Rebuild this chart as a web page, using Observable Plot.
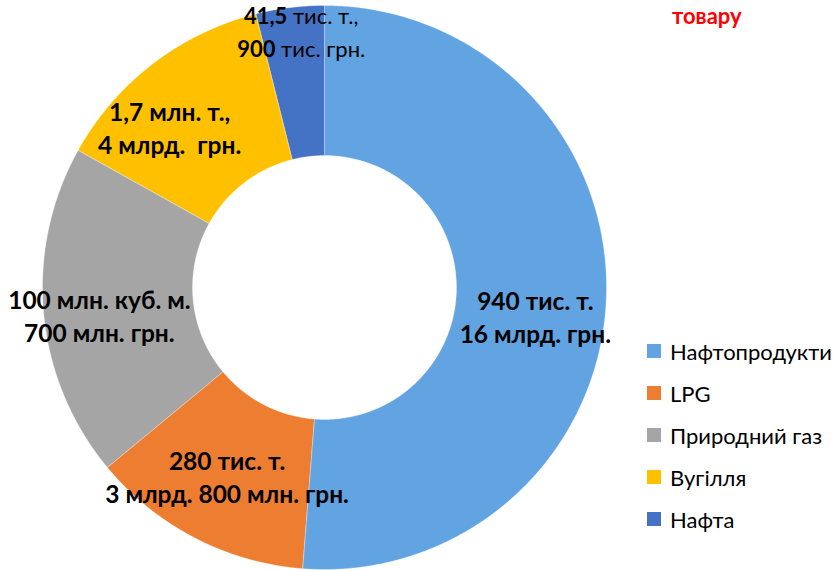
<!DOCTYPE html>
<html>
<head>
<meta charset="utf-8">
<script src="https://cdn.jsdelivr.net/npm/d3@7"></script>
<script src="https://cdn.jsdelivr.net/npm/@observablehq/plot@0.6"></script>
<style>
  html, body { margin: 0; padding: 0; background: #fff; }
  #wrap { position: relative; width: 838px; height: 570px; overflow: hidden; font-family: Lato, "Open Sans", sans-serif; }
  #chart { position: absolute; left: 0; top: 0; }
  #title { position: absolute; left: 672px; top: 2px; color: #ff0000; font-weight: bold; font-size: 22px; font-family: Lato, sans-serif; }
  #legend { position: absolute; left: 647px; top: 330px; }
  .lg-swatches { font-family: Lato, sans-serif !important; font-size: 22px !important; color: #000 !important; margin: 0 !important; }
  .lg-swatch { height: 42px !important; display: flex !important; align-items: center !important; padding: 0 !important; margin: 0 !important; }
  .lg-swatch svg { margin-right: 9px !important; }
  .lg-label, .lg-swatch { font-size: 22px !important; }
</style>
</head>
<body>
<div id="wrap">
  <div id="chart"></div>
  <div id="title">товару</div>
  <div id="legend"></div>
</div>
<script>
// ---- data ----
const categories = ["Нафтопродукти", "LPG", "Природний газ", "Вугілля", "Нафта"];
const shares = [51.25, 12.75, 19.1, 13.0, 3.9];
const labelTexts = [
  "940 тис. т.\n16 млрд. грн.",
  "280 тис. т.\n3 млрд. 800 млн. грн.",
  "100 млн. куб. м.\n700 млн. грн.",
  "1,7 млн. т.,\n4 млрд.  грн.",
  "41,5 тис. т.,\n900 тис. грн."
];
const colors = ["#62A3E2", "#ED7D31", "#A5A5A5", "#FFC000", "#4472C4"];

// ---- layout (not data) ----
const INNER = 0.468;            // inner radius as a fraction of the outer one
const PX = 282;                 // outer radius in pixels (for pixel nudges of labels)
const labelRadius = 0.734;
const labelNudge = [[4, 20], [-2, 5], [-19, 9], [-29, 4], [2, -52]]; // px, +y down

const pie = d3.pie().sort(null).value(d => d)(shares);

// y grows downward in this frame
function ring(a0, a1) {
  const outer = [], inner = [];
  const n = Math.max(2, Math.ceil((a1 - a0) / (Math.PI / 360)));
  for (let k = 0; k <= n; k++) {
    const a = a0 + (a1 - a0) * k / n;
    outer.push([Math.sin(a), -Math.cos(a)]);
    inner.push([INNER * Math.sin(a), -INNER * Math.cos(a)]);
  }
  const coords = outer.concat(inner.reverse());
  coords.push(coords[0]);
  return {type: "Polygon", coordinates: [coords]};
}

const rows = pie.map((p, i) => {
  const m = (p.startAngle + p.endAngle) / 2;
  return {
    name: categories[i],
    label: labelTexts[i],
    geometry: ring(p.startAngle, p.endAngle),
    lx: labelRadius * Math.sin(m) + labelNudge[i][0] / PX,
    ly: -labelRadius * Math.cos(m) + labelNudge[i][1] / PX
  };
});

const plot = Plot.plot({
  width: 838,
  height: 570,
  marginLeft: 42,
  marginRight: 232,
  marginTop: 5,
  marginBottom: 1,
  projection: {
    type: "identity",
    reflectY: true,
    domain: {type: "MultiPoint", coordinates: [[-1, -1], [1, 1]]}
  },
  color: {domain: categories, range: colors},
  style: {fontFamily: "Lato, 'Open Sans', sans-serif", background: "#fff"},
  marks: [
    Plot.geo(rows, {geometry: d => d.geometry, fill: "name", stroke: "#ffffff", strokeOpacity: 0.3, strokeWidth: 1}),
    Plot.text(rows.slice(0, 4), {
      x: "lx", y: "ly", text: "label",
      fontSize: 24.5, fontWeight: "bold", lineHeight: 1.35, fill: "#000",
      textAnchor: "middle", lineAnchor: "middle"
    }),
    Plot.text(rows.slice(4), {
      x: "lx", y: "ly", text: "label",
      fontSize: 22, fontWeight: "normal", lineHeight: 1.5, fill: "#000",
      textAnchor: "middle", lineAnchor: "middle", className: "oil-lbl"
    })
  ]
});

document.getElementById("chart").appendChild(plot);

// number part bold, unit part regular for the "Нафта" label
plot.querySelectorAll(".oil-lbl text").forEach(t => {
  const tspans = t.querySelectorAll("tspan");
  const targets = tspans.length ? Array.from(tspans) : [t];
  targets.forEach(ts => {
    const s = ts.textContent;
    const idx = s.indexOf(" ");
    if (idx < 0) return;
    ts.textContent = "";
    const b = document.createElementNS("http://www.w3.org/2000/svg", "tspan");
    b.setAttribute("font-weight", "bold");
    b.textContent = s.slice(0, idx);
    const r = document.createElementNS("http://www.w3.org/2000/svg", "tspan");
    r.textContent = s.slice(idx);
    ts.appendChild(b);
    ts.appendChild(r);
  });
});

const legend = plot.legend("color", {columns: 1, swatchSize: 14, className: "lg"});
document.getElementById("legend").appendChild(legend);
</script>
</body>
</html>
